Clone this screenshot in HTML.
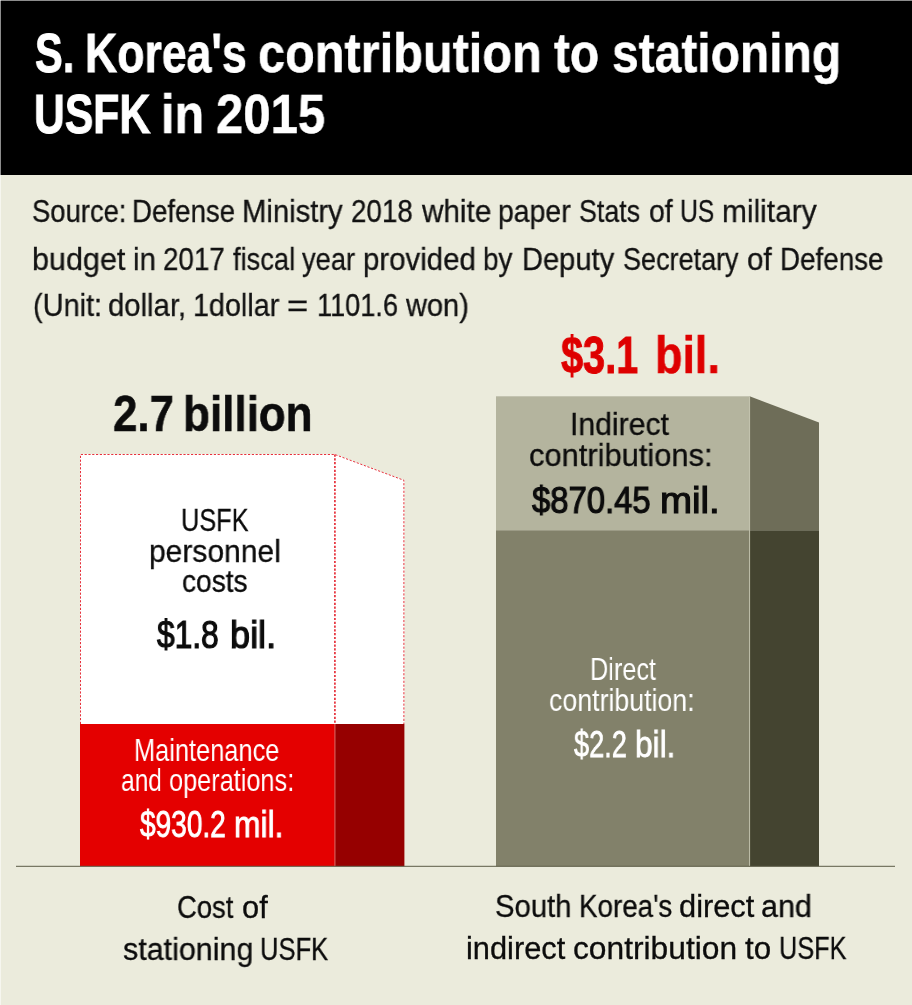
<!DOCTYPE html>
<html lang="en">
<head>
<meta charset="utf-8">
<title>S. Korea's contribution to stationing USFK in 2015</title>
<style>
html,body{margin:0;padding:0;}
body{width:912px;height:1005px;overflow:hidden;background:#ebebdc;font-family:"Liberation Sans",sans-serif;}
#page{position:absolute;left:0;top:0;width:912px;height:1005px;overflow:hidden;background:#ebebdc;}
#hdr{position:absolute;left:0;top:0;width:912px;height:175px;background:#000;}
#edgeL{position:absolute;left:0;top:0;width:1px;height:1005px;background:rgba(255,255,255,0.55);}
#edgeT{position:absolute;left:0;top:0;width:912px;height:1px;background:rgba(255,255,255,0.55);}
.shapes{position:absolute;left:0;top:0;}
.t{position:absolute;white-space:nowrap;line-height:1;transform-origin:0 0;margin:0;padding:0;will-change:transform;}
</style>
</head>
<body>
<div id="page">
<div id="hdr"></div>

<svg class="shapes" width="912" height="1005" viewBox="0 0 912 1005">
  <!-- left bar: white top (front + side) with dotted red outline -->
  <polygon points="80,454 334.9,454 403.9,480 404.4,480 404.4,724 80,724" fill="#ffffff"/>
  <polyline points="80.5,724 80.5,454.5 334.9,454.5 403.9,480.3 403.9,724" fill="none" stroke="#e6323c" stroke-width="1" stroke-dasharray="2.2,1.6"/>
  <line x1="334.9" y1="454.5" x2="334.9" y2="724" stroke="#e6323c" stroke-width="1.7" stroke-dasharray="2.2,1.6"/>
  <!-- left bar: red bottom -->
  <rect x="80" y="724" width="254.9" height="142.3" fill="#e40000"/>
  <rect x="334.9" y="724" width="69.5" height="142.3" fill="#960000"/>
  <line x1="335" y1="724" x2="335" y2="866" stroke="#f0a098" stroke-width="0.6"/>
  <!-- right bar -->
  <rect x="496" y="396.3" width="253.6" height="134" fill="#b4b49e"/>
  <rect x="496" y="530.3" width="253.6" height="336" fill="#82816a"/>
  <polygon points="749.6,396.3 819,422.4 819,530.3 749.6,530.3" fill="#6e6d58"/>
  <rect x="749.6" y="530.3" width="69.4" height="336" fill="#444430"/>
  <line x1="749.6" y1="396.3" x2="749.6" y2="866" stroke="#c8c8b4" stroke-width="0.9"/>
  <!-- baseline -->
  <rect x="16" y="865.8" width="879" height="1" fill="#5c5c48"/>
</svg>
<div class="t" style="left:35.05px;top:25.94px;font-size:55.7px;font-weight:bold;color:#fff;-webkit-text-stroke:1.07px #fff;transform:scaleX(0.7457)">S.</div>
<div class="t" style="left:85.41px;top:25.94px;font-size:55.7px;font-weight:bold;color:#fff;-webkit-text-stroke:0.79px #fff;transform:scaleX(0.801)">Korea's</div>
<div class="t" style="left:257.87px;top:25.94px;font-size:55.7px;font-weight:bold;color:#fff;-webkit-text-stroke:0.5px #fff;transform:scaleX(0.8737)">contribution</div>
<div class="t" style="left:553.72px;top:25.94px;font-size:55.7px;font-weight:bold;color:#fff;-webkit-text-stroke:0.5px #fff;transform:scaleX(0.86)">to</div>
<div class="t" style="left:611.65px;top:25.94px;font-size:55.7px;font-weight:bold;color:#fff;-webkit-text-stroke:0.5px #fff;transform:scaleX(0.8613)">stationing</div>
<div class="t" style="left:34.38px;top:86.74px;font-size:55.7px;font-weight:bold;color:#fff;-webkit-text-stroke:0.99px #fff;transform:scaleX(0.7666)">USFK</div>
<div class="t" style="left:161.1px;top:86.74px;font-size:55.7px;font-weight:bold;color:#fff;-webkit-text-stroke:0.5px #fff;transform:scaleX(0.871)">in</div>
<div class="t" style="left:215.74px;top:86.74px;font-size:55.7px;font-weight:bold;color:#fff;-webkit-text-stroke:0.5px #fff;transform:scaleX(0.8806)">2015</div>
<div class="t" style="left:32.45px;top:196.28px;font-size:31.2px;font-weight:normal;color:#121212;-webkit-text-stroke:0.3px #121212;transform:scaleX(0.8788)">Source:</div>
<div class="t" style="left:132.36px;top:196.28px;font-size:31.2px;font-weight:normal;color:#121212;-webkit-text-stroke:0.3px #121212;transform:scaleX(0.8876)">Defense</div>
<div class="t" style="left:242.27px;top:196.28px;font-size:31.2px;font-weight:normal;color:#121212;-webkit-text-stroke:0.3px #121212;transform:scaleX(0.9376)">Ministry</div>
<div class="t" style="left:350.94px;top:196.28px;font-size:31.2px;font-weight:normal;color:#121212;-webkit-text-stroke:0.3px #121212;transform:scaleX(0.8911)">2018</div>
<div class="t" style="left:421.8px;top:196.28px;font-size:31.2px;font-weight:normal;color:#121212;-webkit-text-stroke:0.3px #121212;transform:scaleX(0.9524)">white</div>
<div class="t" style="left:498.32px;top:196.28px;font-size:31.2px;font-weight:normal;color:#121212;-webkit-text-stroke:0.3px #121212;transform:scaleX(0.9101)">paper</div>
<div class="t" style="left:579.27px;top:196.28px;font-size:31.2px;font-weight:normal;color:#121212;-webkit-text-stroke:0.3px #121212;transform:scaleX(0.8599)">Stats</div>
<div class="t" style="left:648.52px;top:196.28px;font-size:31.2px;font-weight:normal;color:#121212;-webkit-text-stroke:0.3px #121212;transform:scaleX(0.9125)">of</div>
<div class="t" style="left:680.24px;top:196.28px;font-size:31.2px;font-weight:normal;color:#121212;-webkit-text-stroke:0.3px #121212;transform:scaleX(0.7912)">US</div>
<div class="t" style="left:721.53px;top:196.28px;font-size:31.2px;font-weight:normal;color:#121212;-webkit-text-stroke:0.3px #121212;transform:scaleX(0.9583)">military</div>
<div class="t" style="left:32.19px;top:243.98px;font-size:31.2px;font-weight:normal;color:#121212;-webkit-text-stroke:0.3px #121212;transform:scaleX(0.9785)">budget</div>
<div class="t" style="left:133.26px;top:243.98px;font-size:31.2px;font-weight:normal;color:#121212;-webkit-text-stroke:0.3px #121212;transform:scaleX(0.9421)">in</div>
<div class="t" style="left:163.24px;top:243.98px;font-size:31.2px;font-weight:normal;color:#121212;-webkit-text-stroke:0.3px #121212;transform:scaleX(0.8911)">2017</div>
<div class="t" style="left:233.43px;top:243.98px;font-size:31.2px;font-weight:normal;color:#121212;-webkit-text-stroke:0.3px #121212;transform:scaleX(0.8743)">fiscal</div>
<div class="t" style="left:302.13px;top:243.98px;font-size:31.2px;font-weight:normal;color:#121212;-webkit-text-stroke:0.3px #121212;transform:scaleX(0.8748)">year</div>
<div class="t" style="left:363.25px;top:243.98px;font-size:31.2px;font-weight:normal;color:#121212;-webkit-text-stroke:0.3px #121212;transform:scaleX(0.9435)">provided</div>
<div class="t" style="left:483.35px;top:243.98px;font-size:31.2px;font-weight:normal;color:#121212;-webkit-text-stroke:0.3px #121212;transform:scaleX(0.8943)">by</div>
<div class="t" style="left:522.27px;top:243.98px;font-size:31.2px;font-weight:normal;color:#121212;-webkit-text-stroke:0.3px #121212;transform:scaleX(0.9331)">Deputy</div>
<div class="t" style="left:623.26px;top:243.98px;font-size:31.2px;font-weight:normal;color:#121212;-webkit-text-stroke:0.3px #121212;transform:scaleX(0.8658)">Secretary</div>
<div class="t" style="left:747.49px;top:243.98px;font-size:31.2px;font-weight:normal;color:#121212;-webkit-text-stroke:0.3px #121212;transform:scaleX(0.9515)">of</div>
<div class="t" style="left:780.05px;top:243.98px;font-size:31.2px;font-weight:normal;color:#121212;-webkit-text-stroke:0.3px #121212;transform:scaleX(0.8911)">Defense</div>
<div class="t" style="left:33.21px;top:290.48px;font-size:31.2px;font-weight:normal;color:#121212;-webkit-text-stroke:0.3px #121212;transform:scaleX(0.9277)">(Unit:</div>
<div class="t" style="left:107.5px;top:290.48px;font-size:31.2px;font-weight:normal;color:#121212;-webkit-text-stroke:0.3px #121212;transform:scaleX(0.9392)">dollar,</div>
<div class="t" style="left:193.3px;top:290.48px;font-size:31.2px;font-weight:normal;color:#121212;-webkit-text-stroke:0.3px #121212;transform:scaleX(0.9209)">1dollar</div>
<div class="t" style="left:287.31px;top:290.48px;font-size:31.2px;font-weight:normal;color:#121212;-webkit-text-stroke:0.3px #121212;transform:scaleX(1.1656)">=</div>
<div class="t" style="left:316.69px;top:290.48px;font-size:31.2px;font-weight:normal;color:#121212;-webkit-text-stroke:0.3px #121212;transform:scaleX(0.8708)">1101.6</div>
<div class="t" style="left:406.07px;top:290.48px;font-size:31.2px;font-weight:normal;color:#121212;-webkit-text-stroke:0.3px #121212;transform:scaleX(0.9302)">won)</div>
<div class="t" style="left:112.75px;top:389.31px;font-size:50.3px;font-weight:bold;color:#0c0c0c;-webkit-text-stroke:0.5px #0c0c0c;transform:scaleX(0.8718)">2.7</div>
<div class="t" style="left:183.19px;top:389.31px;font-size:50.3px;font-weight:bold;color:#0c0c0c;-webkit-text-stroke:0.5px #0c0c0c;transform:scaleX(0.8751)">billion</div>
<div class="t" style="left:561.16px;top:329.92px;font-size:51.0px;font-weight:bold;color:#de0000;-webkit-text-stroke:0.92px #de0000;transform:scaleX(0.7772)">$3.1</div>
<div class="t" style="left:654.88px;top:329.92px;font-size:51.0px;font-weight:bold;color:#de0000;-webkit-text-stroke:0.5px #de0000;transform:scaleX(0.881)">bil.</div>
<div class="t" style="left:181.22px;top:505.46px;font-size:31.7px;font-weight:normal;color:#0c0c0c;-webkit-text-stroke:0.3px #0c0c0c;transform:scaleX(0.7983)">USFK</div>
<div class="t" style="left:149.15px;top:535.56px;font-size:31.7px;font-weight:normal;color:#0c0c0c;-webkit-text-stroke:0.3px #0c0c0c;transform:scaleX(0.9466)">personnel</div>
<div class="t" style="left:181.95px;top:566.36px;font-size:31.7px;font-weight:normal;color:#0c0c0c;-webkit-text-stroke:0.3px #0c0c0c;transform:scaleX(0.8879)">costs</div>
<div class="t" style="left:157.2px;top:615.73px;font-size:38.0px;font-weight:normal;color:#0c0c0c;-webkit-text-stroke:1.2px #0c0c0c;transform:scaleX(0.8349)">$1.8</div>
<div class="t" style="left:230.27px;top:615.73px;font-size:38.0px;font-weight:normal;color:#0c0c0c;-webkit-text-stroke:1.2px #0c0c0c;transform:scaleX(0.9487)">bil.</div>
<div class="t" style="left:134.28px;top:735.1px;font-size:31.3px;font-weight:normal;color:#fff;-webkit-text-stroke:0.0px #fff;transform:scaleX(0.8111)">Maintenance</div>
<div class="t" style="left:121.32px;top:764.8px;font-size:31.3px;font-weight:normal;color:#fff;-webkit-text-stroke:0.0px #fff;transform:scaleX(0.7829)">and</div>
<div class="t" style="left:169.49px;top:764.8px;font-size:31.3px;font-weight:normal;color:#fff;-webkit-text-stroke:0.0px #fff;transform:scaleX(0.8084)">operations:</div>
<div class="t" style="left:139.94px;top:806.23px;font-size:37.4px;font-weight:normal;color:#fff;-webkit-text-stroke:0.9px #fff;transform:scaleX(0.75)">$930.2</div>
<div class="t" style="left:234.08px;top:806.23px;font-size:37.4px;font-weight:normal;color:#fff;-webkit-text-stroke:0.9px #fff;transform:scaleX(0.8498)">mil.</div>
<div class="t" style="left:569.53px;top:408.53px;font-size:31.5px;font-weight:normal;color:#0c0c0c;-webkit-text-stroke:0.3px #0c0c0c;transform:scaleX(0.9583)">Indirect</div>
<div class="t" style="left:529.37px;top:439.53px;font-size:31.5px;font-weight:normal;color:#0c0c0c;-webkit-text-stroke:0.3px #0c0c0c;transform:scaleX(0.9804)">contributions:</div>
<div class="t" style="left:531.93px;top:482.32px;font-size:37.3px;font-weight:normal;color:#0c0c0c;-webkit-text-stroke:1.2px #0c0c0c;transform:scaleX(0.8804)">$870.45</div>
<div class="t" style="left:659.86px;top:482.32px;font-size:37.3px;font-weight:normal;color:#0c0c0c;-webkit-text-stroke:1.2px #0c0c0c;transform:scaleX(1.0308)">mil.</div>
<div class="t" style="left:590.06px;top:655.24px;font-size:30.9px;font-weight:normal;color:#fff;-webkit-text-stroke:0.0px #fff;transform:scaleX(0.8181)">Direct</div>
<div class="t" style="left:548.73px;top:686.34px;font-size:30.9px;font-weight:normal;color:#fff;-webkit-text-stroke:0.0px #fff;transform:scaleX(0.8652)">contribution:</div>
<div class="t" style="left:573.99px;top:726.19px;font-size:37.8px;font-weight:normal;color:#fff;-webkit-text-stroke:0.8px #fff;transform:scaleX(0.7185)">$2.2</div>
<div class="t" style="left:634.86px;top:726.19px;font-size:37.8px;font-weight:normal;color:#fff;-webkit-text-stroke:0.8px #fff;transform:scaleX(0.836)">bil.</div>
<div class="t" style="left:176.54px;top:893.42px;font-size:30.8px;font-weight:normal;color:#0c0c0c;-webkit-text-stroke:0.3px #0c0c0c;transform:scaleX(0.8911)">Cost</div>
<div class="t" style="left:241.65px;top:893.42px;font-size:30.8px;font-weight:normal;color:#0c0c0c;-webkit-text-stroke:0.3px #0c0c0c;transform:scaleX(0.995)">of</div>
<div class="t" style="left:122.65px;top:935.32px;font-size:30.8px;font-weight:normal;color:#0c0c0c;-webkit-text-stroke:0.3px #0c0c0c;transform:scaleX(0.9893)">stationing</div>
<div class="t" style="left:260.16px;top:935.32px;font-size:30.8px;font-weight:normal;color:#0c0c0c;-webkit-text-stroke:0.3px #0c0c0c;transform:scaleX(0.8307)">USFK</div>
<div class="t" style="left:494.99px;top:891.72px;font-size:30.8px;font-weight:normal;color:#0c0c0c;-webkit-text-stroke:0.3px #0c0c0c;transform:scaleX(0.951)">South</div>
<div class="t" style="left:578.53px;top:891.72px;font-size:30.8px;font-weight:normal;color:#0c0c0c;-webkit-text-stroke:0.3px #0c0c0c;transform:scaleX(0.9017)">Korea's</div>
<div class="t" style="left:679.35px;top:891.72px;font-size:30.8px;font-weight:normal;color:#0c0c0c;-webkit-text-stroke:0.3px #0c0c0c;transform:scaleX(0.9953)">direct</div>
<div class="t" style="left:761.36px;top:891.72px;font-size:30.8px;font-weight:normal;color:#0c0c0c;-webkit-text-stroke:0.3px #0c0c0c;transform:scaleX(0.9888)">and</div>
<div class="t" style="left:466.26px;top:933.52px;font-size:30.8px;font-weight:normal;color:#0c0c0c;-webkit-text-stroke:0.3px #0c0c0c;transform:scaleX(0.9967)">indirect</div>
<div class="t" style="left:573.32px;top:933.52px;font-size:30.8px;font-weight:normal;color:#0c0c0c;-webkit-text-stroke:0.3px #0c0c0c;transform:scaleX(1.0306)">contribution</div>
<div class="t" style="left:745.45px;top:933.52px;font-size:30.8px;font-weight:normal;color:#0c0c0c;-webkit-text-stroke:0.3px #0c0c0c;transform:scaleX(1.0178)">to</div>
<div class="t" style="left:778.78px;top:933.52px;font-size:30.8px;font-weight:normal;color:#0c0c0c;-webkit-text-stroke:0.3px #0c0c0c;transform:scaleX(0.8221)">USFK</div>
<div id="edgeL"></div>
<div id="edgeT"></div>
</div>
</body>
</html>
